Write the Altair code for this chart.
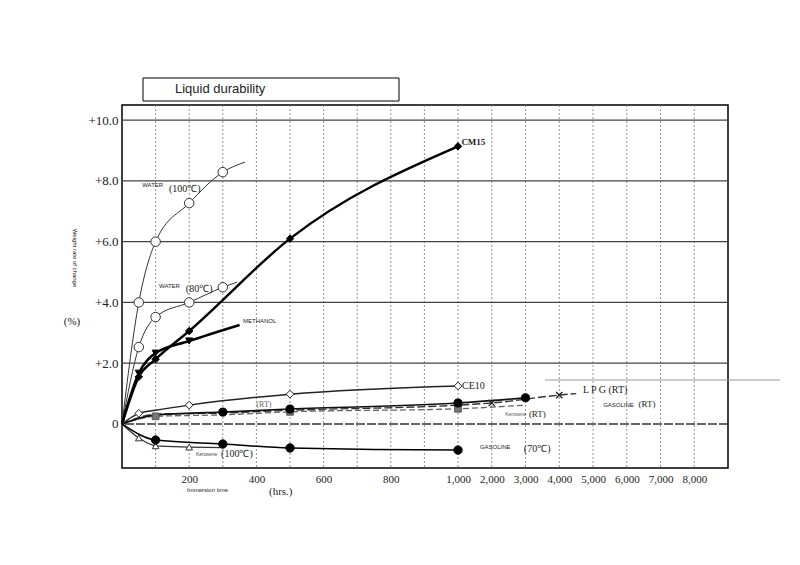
import altair as alt
import pandas as pd

# ---------------- data (hours, weight change %) ----------------
water100_hrs = [0, 50, 100, 200, 300, 366]
water100_val = [0, 4.0, 6.0, 7.27, 8.29, 8.62]
water100_mk_hrs = [50, 100, 200, 300]
water100_mk_val = [4.0, 6.0, 7.27, 8.29]

water80_hrs = [0, 50, 100, 200, 300, 343]
water80_val = [0, 2.53, 3.52, 4.0, 4.5, 4.67]
water80_mk_hrs = [50, 100, 200, 300]
water80_mk_val = [2.53, 3.52, 4.0, 4.5]

cm15_hrs = [0, 50, 100, 200, 500, 1000]
cm15_val = [0, 1.55, 2.13, 3.06, 6.1, 9.14]

methanol_hrs = [0, 50, 100, 200, 350]
methanol_val = [0, 1.67, 2.33, 2.73, 3.26]
methanol_mk_hrs = [50, 100, 200]
methanol_mk_val = [1.67, 2.33, 2.73]

ce10_hrs = [0, 50, 100, 200, 500, 1000]
ce10_val = [0, 0.35, 0.45, 0.62, 0.98, 1.25]
ce10_mk_hrs = [50, 200, 500, 1000]
ce10_mk_val = [0.35, 0.62, 0.98, 1.25]

gas_rt_hrs = [0, 100, 300, 500, 1000, 3000]
gas_rt_val = [0, 0.3, 0.39, 0.49, 0.69, 0.86]
gas_rt_mk_hrs = [300, 500, 1000, 3000]
gas_rt_mk_val = [0.39, 0.49, 0.69, 0.86]

lpg_hrs = [0, 100, 300, 500, 1000, 2000, 4000, 4500]
lpg_val = [0, 0.32, 0.36, 0.45, 0.62, 0.69, 0.95, 1.0]
lpg_mk_hrs = [2000, 4000]
lpg_mk_val = [0.69, 0.95]

ker_rt_hrs = [0, 100, 300, 500, 1000, 3000]
ker_rt_val = [0, 0.25, 0.3, 0.4, 0.5, 0.62]
ker_rt_mk_hrs = [100, 500, 1000]
ker_rt_mk_val = [0.25, 0.4, 0.5]

ker100_hrs = [0, 50, 100, 200, 300]
ker100_val = [0, -0.46, -0.72, -0.76, -0.78]
ker100_mk_hrs = [50, 100, 200]
ker100_mk_val = [-0.46, -0.72, -0.76]

gas70_hrs = [0, 100, 300, 500, 1000, 1060]
gas70_val = [0, -0.53, -0.66, -0.79, -0.86, -0.86]
gas70_mk_hrs = [100, 300, 500, 1000]
gas70_mk_val = [-0.53, -0.66, -0.79, -0.86]

x_ticks = [200, 400, 600, 800, 1000, 2000, 3000, 4000, 5000, 6000, 7000, 8000]
x_grid = [100, 200, 300, 400, 500, 600, 700, 800, 900, 1000,
          2000, 3000, 4000, 5000, 6000, 7000, 8000]
y_ticks = [0, 2, 4, 6, 8, 10]
y_grid = [2, 4, 6, 8, 10]

# ---------------- scales / axes ----------------
W, H = 606, 363
xscale = alt.Scale(domain=[0, 1000, 9000], range=[0, 336, W], nice=False, zero=False)
yscale = alt.Scale(domain=[-1.45, 10.5], nice=False, zero=False)
SERIF = "Liberation Serif"
SANS = "Liberation Sans"

xaxis = alt.Axis(values=x_ticks, labelExpr="format(datum.value, ',')", title=None,
                 grid=False, ticks=False, domain=False, labelPadding=5,
                 labelFont=SERIF, labelFontSize=11, labelColor="#222", labelFlush=False)
yaxis = alt.Axis(values=y_ticks,
                 labelExpr="datum.value == 0 ? '0' : '+' + format(datum.value, '.1f')",
                 title=None, grid=False, ticks=False, domain=False, labelPadding=4,
                 labelFont=SERIF, labelFontSize=13, labelColor="#222")

X = alt.X("hrs:Q", scale=xscale, axis=xaxis)
Y = alt.Y("val:Q", scale=yscale, axis=yaxis)


def line_layer(hrs, vals, width, dash=None, color="black"):
    df = pd.DataFrame({"hrs": hrs, "val": vals})
    kw = dict(strokeWidth=width, color=color, interpolate="monotone")
    if dash:
        kw["strokeDash"] = dash
    return alt.Chart(df).mark_line(**kw).encode(x=X, y=Y)


def point_layer(hrs, vals, shape, size, fill, stroke="black", sw=1.0):
    df = pd.DataFrame({"hrs": hrs, "val": vals})
    if fill is None:
        m = alt.Chart(df).mark_point(shape=shape, size=size, filled=False,
                                     stroke=stroke, strokeWidth=sw, opacity=1)
    else:
        m = alt.Chart(df).mark_point(shape=shape, size=size, filled=True, fill=fill,
                                     stroke=stroke, strokeWidth=sw, opacity=1)
    return m.encode(x=X, y=Y)


def label(text, hrs, val, size=7, font=SANS, color="#222", weight="normal", align="left"):
    df = pd.DataFrame({"hrs": [hrs], "val": [val], "t": [text]})
    return alt.Chart(df).mark_text(font=font, fontSize=size, color=color, fontWeight=weight,
                                   align=align, baseline="middle").encode(x=X, y=Y, text="t:N")


def px_text(text, x, y, size, font=SANS, angle=0, color="#222", align="left"):
    return alt.Chart(alt.Data(values=[{"a": 1}])).mark_text(
        font=font, fontSize=size, angle=angle, color=color, align=align, baseline="middle"
    ).encode(x=alt.value(x), y=alt.value(y), text=alt.value(text))


# gridlines
vgrid = alt.Chart(pd.DataFrame({"hrs": x_grid})).mark_rule(
    color="#777", strokeWidth=0.8, strokeDash=[2, 2]).encode(x=X)
hgrid = alt.Chart(pd.DataFrame({"val": y_grid})).mark_rule(
    color="#444", strokeWidth=1.3).encode(y=Y)
zero = alt.Chart(pd.DataFrame({"val": [0]})).mark_rule(
    color="#333", strokeWidth=1.5, strokeDash=[9, 2]).encode(y=Y)

# title box
title_box = alt.Chart(alt.Data(values=[{"a": 1}])).mark_rect(
    fill="white", stroke="black", strokeWidth=1).encode(
    x=alt.value(21), x2=alt.value(277), y=alt.value(-27), y2=alt.value(-4))
stray = alt.Chart(alt.Data(values=[{"a": 1}])).mark_rule(
    color="#999", strokeWidth=1).encode(x=alt.value(423), x2=alt.value(658), y=alt.value(275))

layers = [
    vgrid, hgrid, zero, stray,
    # curves
    line_layer(water100_hrs, water100_val, 1.0, color="#333"),
    line_layer(water80_hrs, water80_val, 1.0, color="#333"),
    line_layer(cm15_hrs, cm15_val, 2.4),
    line_layer(methanol_hrs, methanol_val, 2.6),
    line_layer(ce10_hrs, ce10_val, 1.4, color="#222"),
    line_layer(ker_rt_hrs, ker_rt_val, 1.3, dash=[6, 3], color="#666"),
    line_layer(lpg_hrs, lpg_val, 1.4, dash=[8, 3], color="#333"),
    line_layer(gas_rt_hrs, gas_rt_val, 1.6, color="#111"),
    line_layer(ker100_hrs, ker100_val, 1.2, color="#333"),
    line_layer(gas70_hrs, gas70_val, 1.5),
    # markers
    point_layer(water100_mk_hrs, water100_mk_val, "circle", 90, "white", "#333"),
    point_layer(water80_mk_hrs, water80_mk_val, "circle", 90, "white", "#333"),
    point_layer(cm15_hrs[1:], cm15_val[1:], "diamond", 55, "black"),
    point_layer(methanol_mk_hrs, methanol_mk_val, "triangle-down", 50, "black"),
    point_layer(ce10_mk_hrs, ce10_mk_val, "diamond", 60, "white", "#222"),
    point_layer(ker_rt_mk_hrs, ker_rt_mk_val, "square", 45, "#777", "#555"),
    point_layer(gas_rt_mk_hrs, gas_rt_mk_val, "circle", 65, "black"),
    point_layer(lpg_mk_hrs, lpg_mk_val, "M-1,-1L1,1M-1,1L1,-1", 40, None, "#222", 1.3),
    point_layer(ker100_mk_hrs, ker100_mk_val, "triangle-up", 45, "white", "#333"),
    point_layer(gas70_mk_hrs, gas70_mk_val, "circle", 70, "black"),
    # series labels
    label("WATER", 60, 7.85, size=6),
    label("(100℃)", 140, 7.75, size=10, font=SERIF),
    label("WATER", 110, 4.55, size=6),
    label("(80℃)", 190, 4.45, size=10, font=SERIF),
    label("METHANOL", 360, 3.38, size=6),
    label("CM15", 1100, 9.28, size=9, font=SERIF, weight="bold"),
    label("CE10", 1120, 1.25, size=10, font=SERIF),
    label("(RT)", 400, 0.62, size=8, font=SERIF, color="#666"),
    label("L P G  (RT)", 4700, 1.12, size=10, font=SERIF),
    label("GASOLINE", 5300, 0.62, size=6),
    label("(RT)", 6350, 0.66, size=9, font=SERIF),
    label("Kerosene", 2400, 0.34, size=5, color="#555"),
    label("(RT)", 3100, 0.34, size=9, font=SERIF),
    label("Kerosene", 220, -1.0, size=5, color="#444"),
    label("(100℃)", 295, -1.0, size=10, font=SERIF),
    label("GASOLINE", 1650, -0.75, size=6),
    label("(70℃)", 2950, -0.82, size=10, font=SERIF),
    # outside texts
    title_box,
    px_text("Liquid durability", 53, -16, 13),
    px_text("Weight rate of change", -47, 153, 6, angle=90, align="center"),
    px_text("(%)", -50, 217, 11, font=SERIF, align="center"),
    px_text("Immersion time", 65, 385, 6),
    px_text("(hrs.)", 147, 387, 11, font=SERIF),
]

chart = alt.layer(*layers).properties(
    width=W, height=H,
    padding={"left": 114, "top": 97, "right": 60, "bottom": 80},
    autosize=alt.AutoSizeParams(type="none"),
    background="white",
).configure_view(stroke="black", strokeWidth=1.5)

chart.save("out.html", embed_options={"renderer": "svg", "actions": False})
